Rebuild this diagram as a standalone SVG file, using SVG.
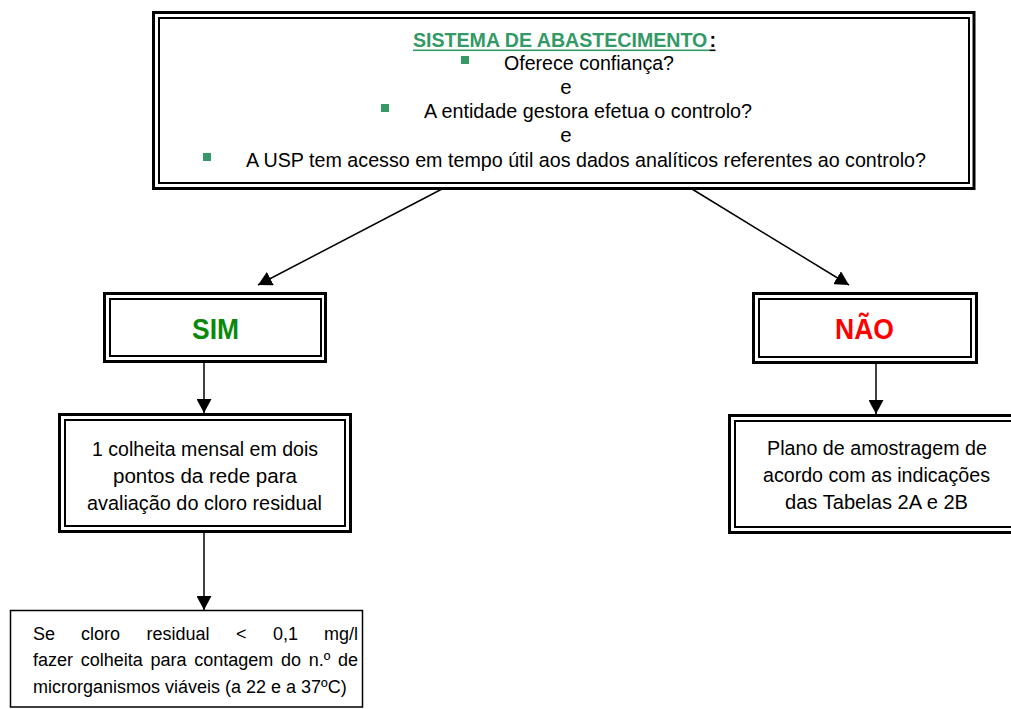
<svg xmlns="http://www.w3.org/2000/svg" width="1011" height="709" viewBox="0 0 1011 709">
<style>
.t{font-family:"Liberation Sans",Arial,sans-serif;font-size:20.5px;fill:#000}
.c{text-anchor:middle}
.s{font-size:18px}
.o{fill:none;stroke:#000;stroke-width:3}
.i{fill:none;stroke:#000;stroke-width:2}
.b{fill:#339966}
.ln{stroke:#000;stroke-width:1.5;fill:none}
.big{font-size:29px;font-weight:bold}
</style>
<defs>
<marker id="ah" markerWidth="15" markerHeight="15" refX="14" refY="7.5" orient="auto" markerUnits="userSpaceOnUse">
<path d="M0,0 L14,7.5 L0,15 Z" fill="#000"/>
</marker>
</defs>
<rect width="1011" height="709" fill="#fff"/>
<g id="connectors">
<line class="ln" x1="442" y1="189" x2="258" y2="285" marker-end="url(#ah)"/>
<line class="ln" x1="692" y1="189" x2="849" y2="285" marker-end="url(#ah)"/>
<line class="ln" x1="204" y1="363" x2="204" y2="413" marker-end="url(#ah)"/>
<line class="ln" x1="876" y1="364" x2="876" y2="414" marker-end="url(#ah)"/>
<line class="ln" x1="204" y1="533" x2="204" y2="610" marker-end="url(#ah)"/>
</g>
<g id="sistema">
<rect class="o" x="153.5" y="12.5" width="820.5" height="176"/>
<rect class="i" x="159" y="18" width="810" height="165"/>
<text class="t" x="413" y="47" style="font-weight:bold;fill:#339966;font-size:19.6px">SISTEMA DE ABASTECIMENTO</text>
<text class="t" x="709.5" y="47" style="font-weight:bold;font-size:19.6px">:</text>
<rect x="413" y="49.5" width="296.5" height="1.6" fill="#339966"/>
<rect x="709.5" y="49.5" width="6" height="1.6" fill="#000"/>
<rect class="b" x="461" y="56" width="8" height="8"/>
<text class="t" x="504" y="70" textLength="170" lengthAdjust="spacingAndGlyphs">Oferece confiança?</text>
<text class="t c" x="566" y="94">e</text>
<rect class="b" x="381" y="104" width="8" height="8"/>
<text class="t" x="424" y="118" textLength="328" lengthAdjust="spacingAndGlyphs">A entidade gestora efetua o controlo?</text>
<text class="t c" x="566" y="142">e</text>
<rect class="b" x="203" y="153" width="8" height="8"/>
<text class="t" x="246" y="167" textLength="680" lengthAdjust="spacingAndGlyphs">A USP tem acesso em tempo útil aos dados analíticos referentes ao controlo?</text>
</g>
<g id="sim">
<rect class="o" x="104.5" y="293.5" width="221" height="68"/>
<rect class="i" x="110" y="299" width="211" height="57"/>
<text class="t big" x="192" y="339" textLength="47" lengthAdjust="spacingAndGlyphs" style="fill:#0a8a0a">SIM</text>
</g>
<g id="nao">
<rect class="o" x="753.5" y="293.5" width="223" height="69"/>
<rect class="i" x="759" y="299" width="212" height="58"/>
<text class="t big" x="835" y="339" textLength="59" lengthAdjust="spacingAndGlyphs" style="fill:#ff0000">NÃO</text>
</g>
<g id="colheita">
<rect class="o" x="59.5" y="414.5" width="291" height="117"/>
<rect class="i" x="65" y="420" width="280" height="106"/>
<text class="t" x="92" y="456" textLength="226" lengthAdjust="spacingAndGlyphs">1 colheita mensal em dois</text>
<text class="t" x="113" y="483" textLength="184" lengthAdjust="spacingAndGlyphs">pontos da rede para</text>
<text class="t" x="87" y="510" textLength="235" lengthAdjust="spacingAndGlyphs">avaliação do cloro residual</text>
</g>
<g id="plano">
<rect class="o" x="729.5" y="415.5" width="294" height="117"/>
<rect class="i" x="735" y="421" width="283" height="106"/>
<text class="t" x="767" y="455" textLength="220" lengthAdjust="spacingAndGlyphs">Plano de amostragem de</text>
<text class="t" x="763" y="482" textLength="227" lengthAdjust="spacingAndGlyphs">acordo com as indicações</text>
<text class="t" x="785" y="509" textLength="183" lengthAdjust="spacingAndGlyphs">das Tabelas 2A e 2B</text>
</g>
<g id="cloro">
<rect x="10.5" y="610.5" width="352" height="96.5" fill="none" stroke="#000" stroke-width="1.5"/>
<text class="t s" y="640"><tspan x="33">Se</tspan><tspan x="81">cloro</tspan><tspan x="146.5">residual</tspan><tspan x="236">&lt;</tspan><tspan x="273">0,1</tspan><tspan x="324">mg/l</tspan></text>
<text class="t s" x="33" y="666" word-spacing="2.7">fazer colheita para contagem do n.º de</text>
<text class="t s" x="33" y="693">microrganismos viáveis (a 22 e a 37ºC)</text>
</g>
</svg>
